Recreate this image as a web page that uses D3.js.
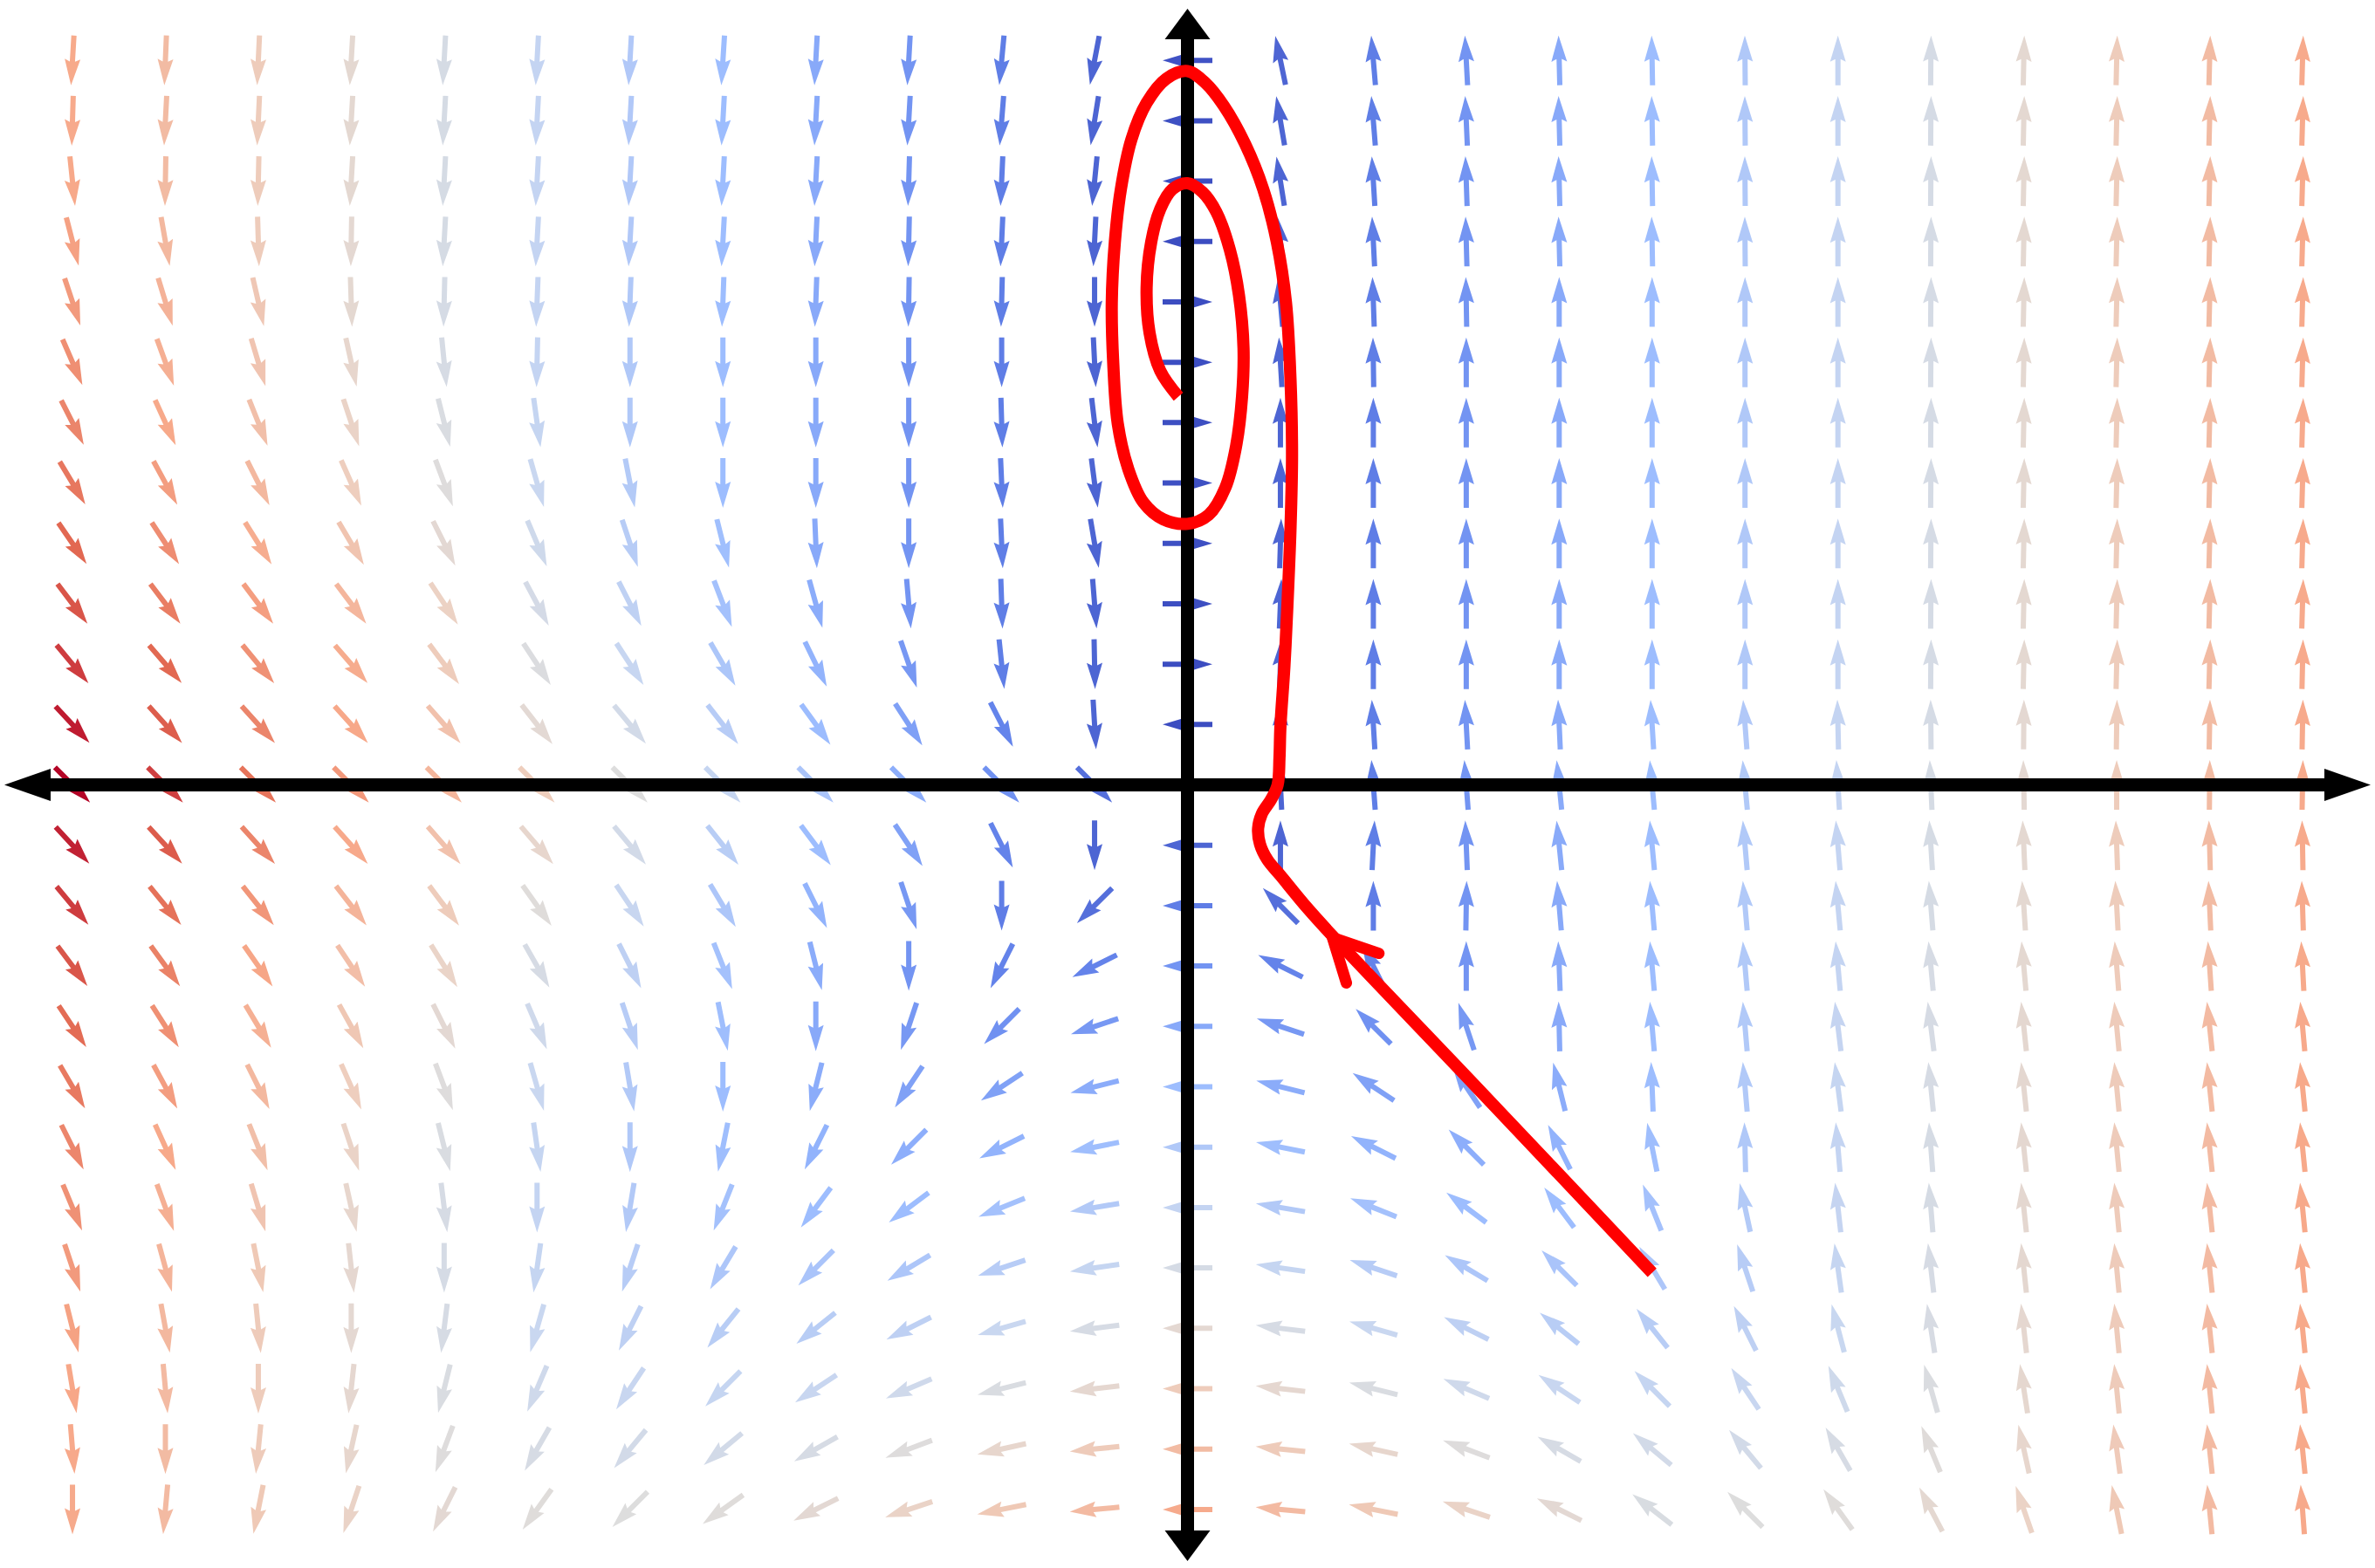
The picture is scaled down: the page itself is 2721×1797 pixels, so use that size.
<!DOCTYPE html>
<html>
<head>
<meta charset="utf-8">
<script src="https://cdn.jsdelivr.net/npm/d3@7"></script>
<style>
  html, body { margin: 0; padding: 0; background: #ffffff; }
  svg { display: block; }
</style>
</head>
<body>
<svg id="chart" width="2721" height="1797"></svg>
<script>
// ---------------- data ----------------
// grid columns (x) and rows (y)
const gridX = [-12,-11,-10,-9,-8,-7,-6,-5,-4,-3,-2,-1,0,1,2,3,4,5,6,7,8,9,10,11,12];
const gridY = [12,11,10,9,8,7,6,5,4,3,2,1,0,-1,-2,-3,-4,-5,-6,-7,-8,-9,-10,-11,-12];

// vertical component of the field, one value per column
const fieldV = [-12,-11,-10,-9,-8,-7,-6,-5,-4,-3,-2,-1,0,1,2,3,4,5,6,7,8,9,10,11,12];

// horizontal component of the field, one row per gridY entry (read from the arrows)
const fieldU = [
  [-0.71,-0.46,-0.47,-0.53,-0.45,-0.39,-0.34,-0.32,-0.22,-0.17,-0.19,-0.19,-0.25,-0.21,-0.17,-0.16,-0.10,-0.09,-0.05,0,0.07,0.19,0.24,0.29,0.34],
  [-0.36,-0.58,-0.47,-0.53,-0.45,-0.39,-0.34,-0.28,-0.22,-0.17,-0.16,-0.16,-0.18,-0.17,-0.16,-0.13,-0.10,-0.09,-0.05,0,0.07,0.19,0.24,0.29,0.34],
  [1.26,-0.19,-0.23,-0.53,-0.45,-0.39,-0.34,-0.28,-0.22,-0.09,-0.09,-0.10,-0.12,-0.16,-0.12,-0.10,-0.10,-0.09,-0.05,0,0.07,0.19,0.24,0.29,0.34],
  [3.08,1.94,0.30,-0.16,-0.45,-0.39,-0.34,-0.28,-0.19,-0.07,-0.09,-0.05,-0.05,-0.12,-0.10,-0.08,-0.10,-0.09,-0.05,0,0.07,0.19,0.24,0.29,0.34],
  [4.0,3.36,2.3,0.3,-0.2,-0.27,-0.23,-0.19,-0.15,-0.05,-0.05,0,0.03,-0.09,-0.07,-0.05,0,0,0,0,0.07,0.19,0.24,0.29,0.34],
  [5.2,4.0,3.0,2.0,0.8,-0.16,0,0,0,0,0,0.05,0.08,-0.06,-0.03,0,0,0,0,0,0.07,0.19,0.24,0.29,0.34],
  [6.1,5.0,4.0,3.0,2.0,0.98,0,0,0,0,0.06,0.12,0.12,0,0,0,0,0,0,0,0.07,0.19,0.24,0.29,0.34],
  [7.2,6.0,5.0,4.0,3.0,2.0,1.17,0,0,0,0.09,0.13,0.15,0,0,0,0,0,0,0,0.07,0.19,0.24,0.29,0.34],
  [8.25,7.2,6.3,5.3,4.0,2.97,2.0,1.25,0.17,0,0.09,0.17,0.15,0.03,0,0,0,0,0,0,0.07,0.19,0.24,0.29,0.34],
  [9.04,8.3,7.5,6.8,5.3,3.72,3.06,1.92,1.1,0.26,0.07,0.08,0.12,0.04,0,0,0,0,0,0,0.07,0.19,0.24,0.29,0.36],
  [10.0,9.5,8.3,7.8,6.0,4.6,3.9,2.9,1.95,1.03,0.21,0.02,0.06,0.03,0,0,0,0,0,0,0.07,0.19,0.24,0.29,0.27],
  [11.2,9.9,9.0,8.1,7.0,5.5,5.0,3.9,2.9,1.95,1.02,0.06,-0.05,0,-0.12,-0.16,-0.18,-0.31,-0.46,-0.16,-0.07,0.08,0.14,0.19,0.21],
  [12,11,10,9,8,7,6,5,4,3,2,1,0,-0.05,-0.15,-0.23,-0.4,-0.46,-0.56,-0.43,-0.35,-0.16,0,0.1,0.21],
  [11,10,9,8,7,6,5,4,3,2,1,0,-1,0,0.1,-0.12,-0.41,-0.47,-0.52,-0.59,-0.5,-0.4,-0.35,-0.3,-0.21],
  [10,9,8,7,6,5,4,3,2,1,0,-1,-2,-1,0,0.05,-0.34,-0.44,-0.52,-0.65,-0.65,-0.6,-0.55,-0.5,-0.38],
  [9,8,7,6,5,4,3,2,1,0,-1,-2,-3,-2,-1,0,-0.15,-0.44,-0.52,-0.65,-0.75,-0.8,-0.8,-0.75,-0.63],
  [8,7,6,5,4,3,2,1,0,-1,-2,-3,-4,-3,-2,-1,-0.09,-0.44,-0.52,-0.86,-1.0,-0.95,-0.96,-1.15,-1.1],
  [7,6,5,4,3,2,1,0,-1,-2,-3,-4,-5,-4,-3,-2,-1,-0.2,-0.52,-0.9,-0.8,-0.95,-0.96,-1.15,-1.2],
  [6,5,4,3,2,1,0,-1,-2,-3,-4,-5,-6,-5,-4,-3,-2,-1,-0.14,-0.6,-0.6,-0.95,-0.96,-1.15,-1.2],
  [5,4,3,2,1,0,-1,-2,-3,-4,-5,-6,-7,-6,-5,-4,-3,-2,-1.3,-0.8,-0.65,-0.95,-0.96,-1.15,-1.2],
  [4,3,2,1,0,-1,-2,-3,-4,-5,-6,-7,-8,-7,-6,-5,-4,-3,-2,-0.98,-0.93,-0.95,-0.96,-1.15,-1.2],
  [3,2,1,0,-1,-2,-3,-4,-5,-6,-7,-8,-9,-8,-7,-6,-5,-4,-3,-1.84,-1.25,-1.0,-0.96,-1.15,-1.2],
  [2,1,0,-1,-2,-3,-4,-5,-6,-7,-8,-9,-10,-9,-8,-7,-6,-5,-4,-2.9,-2.26,-1.4,-1.0,-1.15,-1.2],
  [1,0,-1,-2,-3,-4,-5,-6,-7,-8,-9,-10,-11,-10,-9,-8,-7,-6,-5,-4.0,-3.3,-2.0,-1.35,-1.15,-1.2],
  [0,-1,-2,-3,-4,-5,-6,-7,-8,-9,-10,-11,-12,-11,-10,-9,-8,-6.5,-6,-5.0,-4.2,-3.1,-2.0,-1.06,-0.9]
];

// red trajectory (data coordinates), from its start at the lower right to the spiral end
const pathX = [5.0,3.15,1.56,1.29,1.0,0.86,0.78,0.76,0.8,0.9,0.97,0.99,
  1.0,1.043,1.075,1.108,1.125,1.108,1.06,0.962,0.815,0.619,0.391,0.196,0,
  -0.228,-0.44,-0.603,-0.717,-0.782,-0.815,-0.799,-0.75,-0.636,-0.473,-0.261,0,
  0.228,0.408,0.522,0.587,0.603,0.554,0.456,0.31,0.163,0,
  -0.163,-0.293,-0.391,-0.44,-0.408,-0.293,-0.098];
const pathY = [-8.08,-5.07,-2.5,-2.04,-1.5,-1.24,-0.98,-0.72,-0.48,-0.24,0.0,0.45,
  0.963,1.966,2.969,4.223,5.477,6.731,7.985,8.988,9.866,10.618,11.245,11.621,11.822,
  11.697,11.296,10.694,9.866,8.988,7.985,6.982,5.979,5.226,4.675,4.399,4.324,
  4.474,4.926,5.603,6.43,7.232,8.11,8.862,9.49,9.816,9.966,
  9.866,9.54,8.988,8.236,7.484,6.857,6.43];

// chevron on the trajectory: barb, tip, barb
const chevronX = [2.06,1.56,1.71];
const chevronY = [-2.79,-2.53,-3.28];

// ---------------- drawing ----------------
const W = 2721, H = 1797;
const svg = d3.select("#chart");
svg.append("rect").attr("width", W).attr("height", H).attr("fill", "#ffffff");

const x = d3.scaleLinear().domain([-12.78, 12.78]).range([0, W]);
const y = d3.scaleLinear().domain([13.0, -12.97]).range([0, H]);

// coolwarm colormap
const cw = d3.scaleLinear()
  .domain([0, 1/7, 2/7, 3/7, 0.5, 4/7, 5/7, 6/7, 1])
  .range(["#3b4cc0","#6788ee","#9abbff","#c9d7f0","#dddddd","#edd1c2","#f7a889","#e26952","#b40426"])
  .interpolate(d3.interpolateRgb)
  .clamp(true);

const cells = [];
gridY.forEach((gy, i) => {
  gridX.forEach((gx, j) => {
    const u = fieldU[i][j];
    const v = fieldV[j];
    const m = Math.hypot(u, v);
    if (m > 0) cells.push({gx, gy, u, v, m});
  });
});
const maxM = d3.max(cells, d => d.m);

// quiver arrow shape (pivot at middle), along +x
const L = 57, hw = 3, hl = 30, hal = 27, hh = 9;
const arrowPts = [
  [-L/2, -hw], [L/2 - hal, -hw], [L/2 - hl, -hh], [L/2, 0],
  [L/2 - hl, hh], [L/2 - hal, hw], [-L/2, hw]
];
const arrowPath = "M" + arrowPts.map(p => p.join(",")).join("L") + "Z";

svg.append("g").attr("class", "quiver")
  .selectAll("path")
  .data(cells)
  .join("path")
  .attr("d", arrowPath)
  .attr("fill", d => cw(d.m / maxM))
  .attr("transform", d => {
    const ang = Math.atan2(-d.v, d.u) * 180 / Math.PI;
    return `translate(${x(d.gx)},${y(d.gy)}) rotate(${ang})`;
  });

// axes with arrowheads
const x0 = x(0), y0 = y(0);
const ax = svg.append("g").attr("class", "axes");
ax.append("line").attr("x1", 56).attr("x2", W - 56).attr("y1", y0).attr("y2", y0)
  .attr("stroke", "#000").attr("stroke-width", 15);
ax.append("line").attr("x1", x0).attr("x2", x0).attr("y1", 42).attr("y2", H - 42)
  .attr("stroke", "#000").attr("stroke-width", 15);
const heads = [
  [[5, y0], [58, y0 - 18.5], [58, y0 + 18.5]],
  [[W - 5, y0], [W - 58, y0 - 18.5], [W - 58, y0 + 18.5]],
  [[x0, 10], [x0 - 26, 45], [x0 + 26, 45]],
  [[x0, H - 8], [x0 - 26, H - 43], [x0 + 26, H - 43]]
];
ax.selectAll("path.head").data(heads).join("path")
  .attr("class", "head")
  .attr("d", d => "M" + d.map(p => p.join(",")).join("L") + "Z")
  .attr("fill", "#000");

// red trajectory
const traj = pathX.map((px, i) => [px, pathY[i]]);
const line = d3.line().x(d => x(d[0])).y(d => y(d[1])).curve(d3.curveCatmullRom.alpha(0.5));
svg.append("path")
  .attr("d", line(traj))
  .attr("fill", "none")
  .attr("stroke", "#ff0000")
  .attr("stroke-width", 14)
  .attr("stroke-linecap", "butt")
  .attr("stroke-linejoin", "round");

const chev = chevronX.map((px, i) => [px, chevronY[i]]);
svg.append("path")
  .attr("d", d3.line().x(d => x(d[0])).y(d => y(d[1]))(chev))
  .attr("fill", "none")
  .attr("stroke", "#ff0000")
  .attr("stroke-width", 13)
  .attr("stroke-linecap", "round")
  .attr("stroke-linejoin", "miter");
</script>
</body>
</html>
